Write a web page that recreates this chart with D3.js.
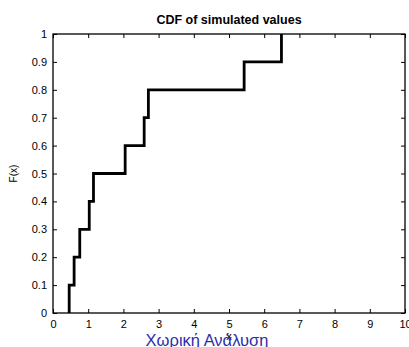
<!DOCTYPE html>
<html><head><meta charset="utf-8">
<script src="https://cdn.jsdelivr.net/npm/d3@7/dist/d3.min.js"></script>
<style>body{margin:0;background:#fff}svg{display:block}text{font-family:"Liberation Sans",Arial,sans-serif}</style>
</head><body><svg id="c" width="409" height="347"></svg>
<script>
const sampleValues = [0.46, 0.60, 0.76, 1.03, 1.15, 2.05, 2.59, 2.71, 5.43, 6.49];
const cdfValues = [0.1, 0.2, 0.3, 0.4, 0.5, 0.6, 0.7, 0.8, 0.9, 1.0];
const xTicks = [0,1,2,3,4,5,6,7,8,9,10];
const yTicks = [0,0.1,0.2,0.3,0.4,0.5,0.6,0.7,0.8,0.9,1];
const titleText = "CDF of simulated values";
const xLabel = "Χωρική Ανάλυση";
const yLabel = "F(x)";

const svg = d3.select("#c");
const L=53, R=405, T=34, B=313;
const x = d3.scaleLinear().domain([0,10]).range([L,R]);
const y = d3.scaleLinear().domain([0,1]).range([B,T]);

const pts = [[sampleValues[0],0]];
sampleValues.forEach((v,i)=>{
  if(i>0) pts.push([v,cdfValues[i-1]]);
  pts.push([v,cdfValues[i]]);
});
svg.append("path").attr("d", d3.line().x(d=>x(d[0])).y(d=>y(d[1]))(pts))
  .attr("fill","none").attr("stroke","#000").attr("stroke-width",2.8).attr("stroke-linejoin","miter");

const tl=4;
const gx = svg.append("g").attr("transform",`translate(0,${B})`)
  .call(d3.axisBottom(x).tickValues(xTicks).tickSize(-tl).tickPadding(7).tickFormat(d3.format("d")));
const gxt = svg.append("g").attr("transform",`translate(0,${T})`)
  .call(d3.axisTop(x).tickValues(xTicks).tickSize(-tl).tickFormat(""));
const gy = svg.append("g").attr("transform",`translate(${L},0)`)
  .call(d3.axisLeft(y).tickValues(yTicks).tickSize(-tl).tickPadding(6).tickFormat(d=>String(+d.toFixed(1))));
const gyr = svg.append("g").attr("transform",`translate(${R},0)`)
  .call(d3.axisRight(y).tickValues(yTicks).tickSize(-tl).tickFormat(""));
[gx,gxt,gy,gyr].forEach(g=>{
  g.select(".domain").remove();
  g.selectAll("line").attr("stroke","#000").attr("stroke-width",1);
  g.selectAll("text").attr("fill","#000").style("font-size","11px").style("font-family","'Liberation Sans',Arial,sans-serif");
});
svg.append("rect").attr("x",L).attr("y",T).attr("width",R-L).attr("height",B-T)
  .attr("fill","none").attr("stroke","#000").attr("stroke-width",1.3);

svg.append("text").attr("x",(L+R)/2).attr("y",24).attr("text-anchor","middle")
  .style("font-size","12.5px").style("font-weight","bold").text(titleText);
svg.append("text").attr("transform",`translate(17,${(T+B)/2}) rotate(-90)`).attr("text-anchor","middle")
  .style("font-size","10px").text(yLabel);
svg.append("text").attr("x",229).attr("y",340).attr("text-anchor","middle")
  .style("font-size","11px").text("x");
svg.append("text").attr("x",207).attr("y",346).attr("text-anchor","middle")
  .attr("fill","#2d2da8").style("font-size","16.5px").text(xLabel);
</script></body></html>
